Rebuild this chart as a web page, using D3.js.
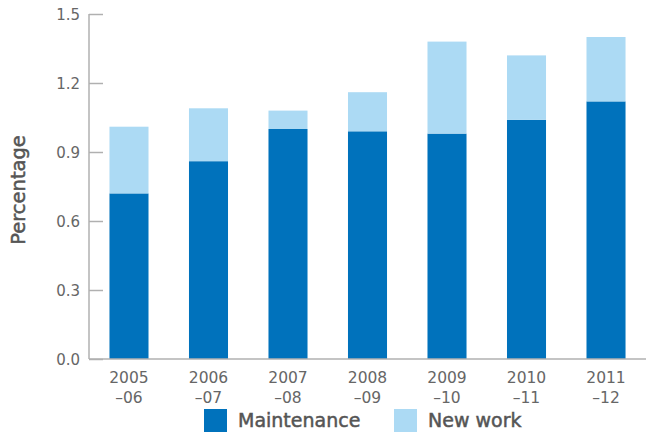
<!DOCTYPE html>
<html>
<head>
<meta charset="utf-8">
<script src="https://cdn.jsdelivr.net/npm/d3@7"></script>
<style>
  html, body { margin: 0; padding: 0; background: #fff; }
  svg { display: block; }
  text { font-family: "DejaVu Sans", "Open Sans", sans-serif; }
</style>
</head>
<body>
<svg id="chart" width="653" height="432"></svg>
<script>
// Financial years and spending shares (percentage)
const years = ["2005\n–06", "2006\n–07", "2007\n–08", "2008\n–09", "2009\n–10", "2010\n–11", "2011\n–12"];
const maintenance = [0.72, 0.86, 1.00, 0.99, 0.98, 1.04, 1.12];
const newWork = [0.29, 0.23, 0.08, 0.17, 0.40, 0.28, 0.28];
const yTicks = [0.0, 0.3, 0.6, 0.9, 1.2, 1.5];
const seriesNames = ["Maintenance", "New work"];
const colors = ["#0072bc", "#acdaf4"];

const svg = d3.select("#chart");
const plot = { left: 89, right: 646, top: 14, bottom: 359 };

const x = d3.scaleBand().domain(years).range([plot.left, plot.right])
  .paddingInner(0.509).paddingOuter(0.2575);
const y = d3.scaleLinear().domain([0, 1.5]).range([plot.bottom, plot.top]);

const rows = years.map((yr, i) => ({ year: yr, Maintenance: maintenance[i], "New work": newWork[i] }));
const stacked = d3.stack().keys(seriesNames)(rows);

// stacked bars
svg.append("g").selectAll("g").data(stacked).join("g")
  .attr("fill", (d, i) => colors[i])
  .selectAll("rect").data(d => d).join("rect")
  .attr("x", d => x(d.data.year))
  .attr("width", x.bandwidth())
  .attr("y", d => y(d[1]))
  .attr("height", d => y(d[0]) - y(d[1]));

// y axis: ticks point inward
const yAxis = svg.append("g").attr("transform", `translate(${plot.left},0)`)
  .call(d3.axisRight(y).tickValues(yTicks).tickFormat(d3.format(".1f")).tickSize(14));
yAxis.select(".domain").attr("stroke", "#b0b0b0").attr("stroke-width", 1.5).attr("d", `M0,${plot.top}V${plot.bottom}`);
yAxis.selectAll(".tick line").attr("stroke", "#b0b0b0").attr("stroke-width", 1.5);
yAxis.selectAll(".tick text")
  .attr("x", -9).attr("text-anchor", "end")
  .attr("fill", "#666").style("font-size", "15px").attr("dy", "0.35em");

// x axis baseline and two-line labels
svg.append("line").attr("x1", plot.left).attr("x2", plot.right).attr("y1", plot.bottom).attr("y2", plot.bottom)
  .attr("stroke", "#b0b0b0").attr("stroke-width", 1.5);
const xl = svg.append("g").selectAll("text").data(years).join("text")
  .attr("x", d => x(d) + x.bandwidth() / 2)
  .attr("y", 383)
  .attr("text-anchor", "middle")
  .attr("fill", "#666").style("font-size", "15.5px");
xl.selectAll("tspan").data(d => d.split("\n")).join("tspan")
  .attr("x", function () { return d3.select(this.parentNode).attr("x"); })
  .attr("dy", (d, i) => i === 0 ? 0 : 19.5)
  .text(d => d);

// y axis title
svg.append("text")
  .attr("transform", "translate(25,190) rotate(-90)")
  .attr("text-anchor", "middle")
  .attr("fill", "#555").attr("stroke", "#555").attr("stroke-width", 0.5)
  .style("font-size", "19.5px")
  .text("Percentage");

// legend
const legendX = [204, 394];
const lg = svg.append("g").selectAll("g").data(seriesNames).join("g")
  .attr("transform", (d, i) => `translate(${legendX[i]},409)`);
lg.append("rect").attr("width", 23).attr("height", 23).attr("fill", (d, i) => colors[i]);
lg.append("text").attr("x", 34).attr("y", 18)
  .attr("fill", "#555").attr("stroke", "#555").attr("stroke-width", 0.5)
  .style("font-size", "19px")
  .text(d => d);
</script>
</body>
</html>
